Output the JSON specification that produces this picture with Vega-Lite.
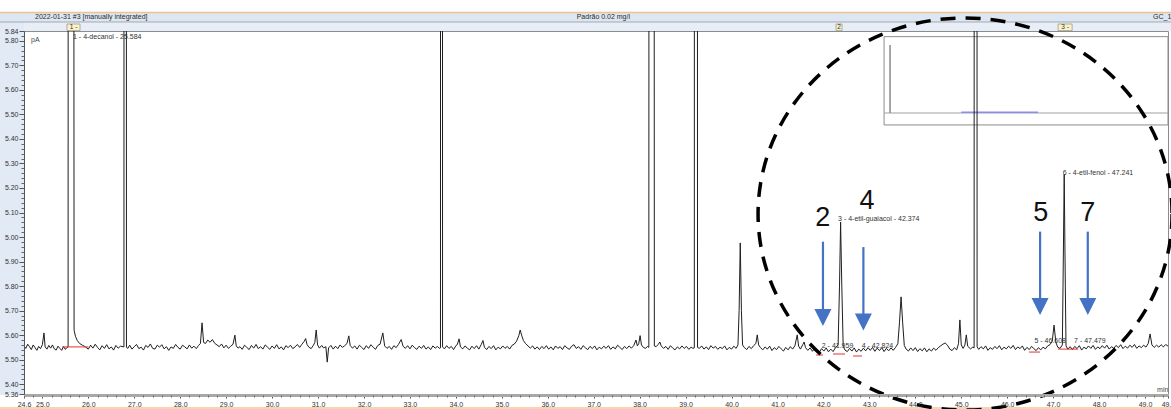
{
"$schema":"https://vega.github.io/schema/vega-lite/v6.json",
"width":1144,"height":363,
"autosize":{"type":"none"},
"padding":{"left":24,"top":31,"right":3,"bottom":15},
"background":"#ffffff",
"config":{"font":"Liberation Sans","view":{"stroke":"#8c8c8c","strokeWidth":1}},
"datasets":{
"trace":[
{"t":24.60,"v":4.556},{"t":24.64,"v":4.546},{"t":24.68,"v":4.563},{"t":24.72,"v":4.553},{"t":24.76,"v":4.541},{"t":24.80,"v":4.560},{"t":24.84,"v":4.549},{"t":24.88,"v":4.538},{"t":24.92,"v":4.554},{"t":24.96,"v":4.545},{"t":25.00,"v":4.561},{"t":25.035,"v":4.609},{"t":25.06,"v":4.552},{"t":25.10,"v":4.543},{"t":25.14,"v":4.558},{"t":25.18,"v":4.547},{"t":25.22,"v":4.560},{"t":25.26,"v":4.544},{"t":25.30,"v":4.539},{"t":25.34,"v":4.555},{"t":25.38,"v":4.546},{"t":25.42,"v":4.538},{"t":25.46,"v":4.553},{"t":25.50,"v":4.542},{"t":25.53,"v":4.549},{"t":25.56,"v":4.552},{"t":25.585,"v":40},{"t":25.69,"v":4.62},{"t":25.72,"v":4.595},{"t":25.76,"v":4.578},{"t":25.81,"v":4.566},{"t":25.87,"v":4.559},{"t":25.93,"v":4.553},
{"t":26.00,"v":4.543},{"t":26.05,"v":4.559},{"t":26.10,"v":4.547},{"t":26.15,"v":4.563},{"t":26.20,"v":4.550},{"t":26.25,"v":4.540},{"t":26.30,"v":4.557},{"t":26.35,"v":4.546},{"t":26.40,"v":4.561},{"t":26.45,"v":4.544},{"t":26.50,"v":4.552},{"t":26.55,"v":4.539},{"t":26.60,"v":4.558},{"t":26.65,"v":4.547},{"t":26.70,"v":4.555},{"t":26.775,"v":4.552},{"t":26.80,"v":40},{"t":26.83,"v":4.550},
{"t":26.86,"v":4.546},{"t":26.90,"v":4.559},{"t":26.95,"v":4.543},{"t":27.00,"v":4.553},{"t":27.05,"v":4.562},{"t":27.10,"v":4.545},{"t":27.15,"v":4.551},{"t":27.20,"v":4.539},{"t":27.25,"v":4.558},{"t":27.30,"v":4.550},{"t":27.35,"v":4.564},{"t":27.40,"v":4.546},{"t":27.45,"v":4.543},{"t":27.50,"v":4.559},{"t":27.55,"v":4.551},{"t":27.60,"v":4.561},{"t":27.65,"v":4.544},{"t":27.70,"v":4.553},{"t":27.75,"v":4.538},{"t":27.80,"v":4.552},{"t":27.85,"v":4.546},{"t":27.90,"v":4.562},{"t":27.95,"v":4.550},{"t":28.00,"v":4.543},{"t":28.05,"v":4.559},{"t":28.10,"v":4.552},{"t":28.15,"v":4.544},{"t":28.20,"v":4.560},{"t":28.25,"v":4.547},{"t":28.30,"v":4.555},{"t":28.35,"v":4.545},{"t":28.40,"v":4.558},{"t":28.44,"v":4.566},{"t":28.475,"v":4.650},{"t":28.51,"v":4.570},{"t":28.55,"v":4.566},{"t":28.60,"v":4.580},{"t":28.65,"v":4.571},{"t":28.70,"v":4.582},{"t":28.75,"v":4.567},{"t":28.80,"v":4.560},{"t":28.85,"v":4.553},{"t":28.90,"v":4.564},{"t":28.95,"v":4.548},{"t":29.00,"v":4.559},{"t":29.05,"v":4.546},{"t":29.10,"v":4.555},{"t":29.15,"v":4.563},{"t":29.19,"v":4.600},{"t":29.22,"v":4.556},{"t":29.26,"v":4.547},{"t":29.30,"v":4.553},{"t":29.35,"v":4.542},{"t":29.40,"v":4.559},{"t":29.45,"v":4.550},{"t":29.50,"v":4.541},{"t":29.55,"v":4.558},{"t":29.60,"v":4.547},{"t":29.65,"v":4.562},{"t":29.70,"v":4.545},{"t":29.75,"v":4.553},{"t":29.80,"v":4.543},{"t":29.85,"v":4.560},{"t":29.90,"v":4.551},{"t":29.95,"v":4.542},{"t":30.00,"v":4.556},{"t":30.05,"v":4.546},{"t":30.10,"v":4.561},{"t":30.15,"v":4.544},{"t":30.20,"v":4.552},{"t":30.25,"v":4.540},{"t":30.30,"v":4.557},{"t":30.35,"v":4.549},{"t":30.40,"v":4.559},{"t":30.45,"v":4.545},{"t":30.50,"v":4.552},{"t":30.55,"v":4.562},{"t":30.60,"v":4.550},{"t":30.65,"v":4.563},{"t":30.70,"v":4.575},{"t":30.73,"v":4.586},{"t":30.76,"v":4.562},{"t":30.80,"v":4.551},{"t":30.85,"v":4.545},{"t":30.90,"v":4.559},{"t":30.93,"v":4.570},{"t":30.96,"v":4.621},{"t":30.99,"v":4.560},{"t":31.03,"v":4.547},{"t":31.08,"v":4.558},{"t":31.12,"v":4.548},{"t":31.17,"v":4.553},{"t":31.20,"v":4.490},{"t":31.23,"v":4.548},{"t":31.28,"v":4.558},{"t":31.33,"v":4.543},{"t":31.38,"v":4.555},{"t":31.43,"v":4.545},{"t":31.48,"v":4.560},{"t":31.53,"v":4.550},{"t":31.58,"v":4.557},{"t":31.63,"v":4.566},{"t":31.67,"v":4.597},{"t":31.70,"v":4.558},{"t":31.75,"v":4.547},{"t":31.80,"v":4.556},{"t":31.85,"v":4.543},{"t":31.90,"v":4.559},{"t":31.95,"v":4.550},{"t":32.00,"v":4.541},{"t":32.05,"v":4.557},{"t":32.10,"v":4.546},{"t":32.15,"v":4.561},{"t":32.20,"v":4.551},{"t":32.25,"v":4.542},{"t":32.30,"v":4.558},{"t":32.35,"v":4.563},{"t":32.41,"v":4.609},{"t":32.45,"v":4.556},{"t":32.50,"v":4.546},{"t":32.55,"v":4.554},{"t":32.60,"v":4.542},{"t":32.65,"v":4.557},{"t":32.70,"v":4.549},{"t":32.75,"v":4.562},{"t":32.81,"v":4.582},{"t":32.85,"v":4.555},{"t":32.90,"v":4.546},{"t":32.95,"v":4.557},{"t":33.00,"v":4.544},{"t":33.05,"v":4.559},{"t":33.10,"v":4.549},{"t":33.15,"v":4.542},{"t":33.20,"v":4.555},{"t":33.25,"v":4.546},{"t":33.30,"v":4.558},{"t":33.35,"v":4.543},{"t":33.40,"v":4.552},{"t":33.45,"v":4.541},{"t":33.50,"v":4.556},{"t":33.55,"v":4.547},{"t":33.60,"v":4.554},{"t":33.64,"v":4.546},{"t":33.665,"v":4.548},{"t":33.685,"v":40},{"t":33.71,"v":4.552},
{"t":33.75,"v":4.544},{"t":33.80,"v":4.557},{"t":33.85,"v":4.546},{"t":33.90,"v":4.554},{"t":33.95,"v":4.541},{"t":34.00,"v":4.557},{"t":34.03,"v":4.561},{"t":34.07,"v":4.585},{"t":34.10,"v":4.552},{"t":34.15,"v":4.544},{"t":34.20,"v":4.556},{"t":34.25,"v":4.547},{"t":34.30,"v":4.540},{"t":34.35,"v":4.555},{"t":34.40,"v":4.545},{"t":34.45,"v":4.557},{"t":34.50,"v":4.543},{"t":34.55,"v":4.561},{"t":34.59,"v":4.578},{"t":34.62,"v":4.551},{"t":34.67,"v":4.541},{"t":34.72,"v":4.554},{"t":34.77,"v":4.545},{"t":34.82,"v":4.557},{"t":34.87,"v":4.540},{"t":34.92,"v":4.551},{"t":34.97,"v":4.544},{"t":35.02,"v":4.556},{"t":35.07,"v":4.546},{"t":35.12,"v":4.554},{"t":35.17,"v":4.543},{"t":35.22,"v":4.558},{"t":35.27,"v":4.563},{"t":35.32,"v":4.575},{"t":35.37,"v":4.598},{"t":35.40,"v":4.621},{"t":35.43,"v":4.600},{"t":35.47,"v":4.578},{"t":35.52,"v":4.565},{"t":35.57,"v":4.556},{"t":35.62,"v":4.547},{"t":35.67,"v":4.556},{"t":35.72,"v":4.543},{"t":35.77,"v":4.552},{"t":35.82,"v":4.541},{"t":35.87,"v":4.554},{"t":35.92,"v":4.545},{"t":35.97,"v":4.557},{"t":36.02,"v":4.543},{"t":36.07,"v":4.552},{"t":36.12,"v":4.540},{"t":36.17,"v":4.556},{"t":36.22,"v":4.546},{"t":36.27,"v":4.553},{"t":36.32,"v":4.541},{"t":36.37,"v":4.557},{"t":36.42,"v":4.548},{"t":36.47,"v":4.542},{"t":36.52,"v":4.555},{"t":36.57,"v":4.561},{"t":36.62,"v":4.546},{"t":36.67,"v":4.553},{"t":36.72,"v":4.542},{"t":36.77,"v":4.557},{"t":36.82,"v":4.548},{"t":36.87,"v":4.541},{"t":36.92,"v":4.554},{"t":36.97,"v":4.545},{"t":37.02,"v":4.556},{"t":37.07,"v":4.540},{"t":37.12,"v":4.551},{"t":37.17,"v":4.544},{"t":37.22,"v":4.555},{"t":37.27,"v":4.546},{"t":37.32,"v":4.557},{"t":37.37,"v":4.542},{"t":37.42,"v":4.552},{"t":37.47,"v":4.544},{"t":37.52,"v":4.559},{"t":37.57,"v":4.550},{"t":37.62,"v":4.541},{"t":37.67,"v":4.554},{"t":37.72,"v":4.545},{"t":37.77,"v":4.556},{"t":37.82,"v":4.547},{"t":37.87,"v":4.557},{"t":37.92,"v":4.580},{"t":37.95,"v":4.556},{"t":37.98,"v":4.565},{"t":38.01,"v":4.598},{"t":38.04,"v":4.560},{"t":38.08,"v":4.550},{"t":38.13,"v":4.546},{"t":38.17,"v":4.554},{"t":38.20,"v":4.550},{"t":38.245,"v":40},{"t":38.32,"v":4.556},
{"t":38.36,"v":4.553},{"t":38.40,"v":4.561},{"t":38.44,"v":4.572},{"t":38.47,"v":4.556},{"t":38.52,"v":4.546},{"t":38.57,"v":4.554},{"t":38.62,"v":4.542},{"t":38.67,"v":4.557},{"t":38.72,"v":4.547},{"t":38.77,"v":4.540},{"t":38.82,"v":4.552},{"t":38.87,"v":4.544},{"t":38.92,"v":4.556},{"t":38.97,"v":4.546},{"t":39.02,"v":4.554},{"t":39.07,"v":4.542},{"t":39.12,"v":4.551},{"t":39.16,"v":4.546},{"t":39.19,"v":4.548},{"t":39.215,"v":40},{"t":39.26,"v":4.550},
{"t":39.30,"v":4.546},{"t":39.35,"v":4.556},{"t":39.40,"v":4.543},{"t":39.45,"v":4.552},{"t":39.50,"v":4.541},{"t":39.55,"v":4.557},{"t":39.60,"v":4.547},{"t":39.65,"v":4.554},{"t":39.70,"v":4.542},{"t":39.75,"v":4.551},{"t":39.80,"v":4.545},{"t":39.85,"v":4.556},{"t":39.90,"v":4.540},{"t":39.95,"v":4.550},{"t":40.00,"v":4.543},{"t":40.05,"v":4.555},{"t":40.10,"v":4.546},{"t":40.14,"v":4.560},{"t":40.165,"v":4.70},{"t":40.19,"v":4.976},{"t":40.215,"v":4.70},{"t":40.24,"v":4.560},{"t":40.28,"v":4.549},{"t":40.33,"v":4.541},{"t":40.38,"v":4.554},{"t":40.43,"v":4.545},{"t":40.48,"v":4.557},{"t":40.53,"v":4.566},{"t":40.56,"v":4.601},{"t":40.59,"v":4.560},{"t":40.63,"v":4.549},{"t":40.68,"v":4.540},{"t":40.73,"v":4.552},{"t":40.78,"v":4.543},{"t":40.83,"v":4.555},{"t":40.88,"v":4.537},{"t":40.93,"v":4.549},{"t":40.98,"v":4.541},{"t":41.03,"v":4.554},{"t":41.08,"v":4.544},{"t":41.13,"v":4.535},{"t":41.18,"v":4.550},{"t":41.23,"v":4.540},{"t":41.28,"v":4.553},{"t":41.33,"v":4.543},{"t":41.38,"v":4.557},{"t":41.43,"v":4.601},{"t":41.46,"v":4.555},{"t":41.50,"v":4.543},{"t":41.55,"v":4.561},{"t":41.58,"v":4.572},{"t":41.61,"v":4.549},{"t":41.66,"v":4.538},{"t":41.71,"v":4.548},{"t":41.76,"v":4.534},{"t":41.81,"v":4.546},{"t":41.86,"v":4.537},{"t":41.91,"v":4.530},{"t":41.96,"v":4.545},{"t":42.01,"v":4.535},{"t":42.06,"v":4.548},{"t":42.11,"v":4.532},{"t":42.16,"v":4.543},{"t":42.21,"v":4.533},{"t":42.26,"v":4.548},{"t":42.32,"v":4.560},{"t":42.35,"v":4.80},{"t":42.374,"v":5.061},{"t":42.40,"v":4.80},{"t":42.43,"v":4.555},{"t":42.47,"v":4.539},{"t":42.52,"v":4.533},{"t":42.57,"v":4.546},{"t":42.62,"v":4.535},{"t":42.67,"v":4.548},{"t":42.72,"v":4.531},{"t":42.77,"v":4.543},{"t":42.82,"v":4.534},{"t":42.87,"v":4.547},{"t":42.92,"v":4.536},{"t":42.97,"v":4.549},{"t":43.02,"v":4.538},{"t":43.07,"v":4.550},{"t":43.12,"v":4.534},{"t":43.17,"v":4.547},{"t":43.22,"v":4.537},{"t":43.27,"v":4.549},{"t":43.32,"v":4.533},{"t":43.37,"v":4.546},{"t":43.42,"v":4.536},{"t":43.47,"v":4.548},{"t":43.52,"v":4.538},{"t":43.57,"v":4.550},{"t":43.62,"v":4.565},{"t":43.655,"v":4.65},{"t":43.69,"v":4.756},{"t":43.725,"v":4.65},{"t":43.76,"v":4.558},{"t":43.80,"v":4.543},{"t":43.85,"v":4.535},{"t":43.90,"v":4.548},{"t":43.95,"v":4.537},{"t":44.00,"v":4.549},{"t":44.05,"v":4.533},{"t":44.10,"v":4.545},{"t":44.15,"v":4.536},{"t":44.20,"v":4.548},{"t":44.25,"v":4.532},{"t":44.30,"v":4.544},{"t":44.35,"v":4.535},{"t":44.40,"v":4.547},{"t":44.45,"v":4.538},{"t":44.50,"v":4.549},{"t":44.55,"v":4.556},{"t":44.60,"v":4.563},{"t":44.65,"v":4.568},{"t":44.70,"v":4.559},{"t":44.75,"v":4.543},{"t":44.80,"v":4.537},{"t":44.85,"v":4.549},{"t":44.90,"v":4.540},{"t":44.94,"v":4.565},{"t":44.97,"v":4.662},{"t":45.00,"v":4.560},{"t":45.04,"v":4.546},{"t":45.08,"v":4.560},{"t":45.11,"v":4.601},{"t":45.14,"v":4.555},{"t":45.20,"v":4.544},{"t":45.25,"v":4.551},{"t":45.28,"v":4.548},{"t":45.305,"v":40},{"t":45.345,"v":4.552},
{"t":45.38,"v":4.542},{"t":45.43,"v":4.553},{"t":45.48,"v":4.544},{"t":45.53,"v":4.556},{"t":45.58,"v":4.538},{"t":45.63,"v":4.549},{"t":45.68,"v":4.542},{"t":45.73,"v":4.554},{"t":45.78,"v":4.545},{"t":45.83,"v":4.557},{"t":45.88,"v":4.540},{"t":45.93,"v":4.551},{"t":45.98,"v":4.544},{"t":46.03,"v":4.555},{"t":46.08,"v":4.546},{"t":46.13,"v":4.558},{"t":46.18,"v":4.541},{"t":46.23,"v":4.552},{"t":46.28,"v":4.545},{"t":46.33,"v":4.556},{"t":46.38,"v":4.538},{"t":46.43,"v":4.550},{"t":46.48,"v":4.541},{"t":46.53,"v":4.554},{"t":46.58,"v":4.545},{"t":46.63,"v":4.537},{"t":46.68,"v":4.549},{"t":46.73,"v":4.540},{"t":46.78,"v":4.551},{"t":46.83,"v":4.544},{"t":46.88,"v":4.556},{"t":46.93,"v":4.561},{"t":46.98,"v":4.575},{"t":47.02,"v":4.641},{"t":47.06,"v":4.570},{"t":47.10,"v":4.551},{"t":47.15,"v":4.546},{"t":47.20,"v":4.560},{"t":47.215,"v":4.80},{"t":47.241,"v":5.255},{"t":47.265,"v":4.80},{"t":47.28,"v":4.556},{"t":47.32,"v":4.543},{"t":47.37,"v":4.553},{"t":47.42,"v":4.541},{"t":47.47,"v":4.554},{"t":47.52,"v":4.545},{"t":47.57,"v":4.557},{"t":47.62,"v":4.539},{"t":47.67,"v":4.551},{"t":47.72,"v":4.544},{"t":47.77,"v":4.556},{"t":47.82,"v":4.546},{"t":47.87,"v":4.558},{"t":47.92,"v":4.542},{"t":47.97,"v":4.552},{"t":48.02,"v":4.545},{"t":48.07,"v":4.557},{"t":48.12,"v":4.547},{"t":48.17,"v":4.559},{"t":48.22,"v":4.543},{"t":48.27,"v":4.553},{"t":48.32,"v":4.546},{"t":48.37,"v":4.558},{"t":48.42,"v":4.549},{"t":48.47,"v":4.561},{"t":48.52,"v":4.545},{"t":48.57,"v":4.555},{"t":48.62,"v":4.547},{"t":48.67,"v":4.559},{"t":48.72,"v":4.550},{"t":48.77,"v":4.562},{"t":48.82,"v":4.546},{"t":48.87,"v":4.556},{"t":48.92,"v":4.549},{"t":48.97,"v":4.559},{"t":49.02,"v":4.551},{"t":49.07,"v":4.566},{"t":49.11,"v":4.605},{"t":49.15,"v":4.560},{"t":49.20,"v":4.550},{"t":49.25,"v":4.559},{"t":49.30,"v":4.551},{"t":49.35,"v":4.561},{"t":49.40,"v":4.552},{"t":49.45,"v":4.562},{"t":49.50,"v":4.555}
],
"plabels":[
{"t":25.667,"v":5.8155,"label":"1 - 4-decanol - 25.584"},
{"t":42.319,"v":5.073,"label":"3 - 4-etil-guaiacol - 42.374"},
{"t":41.964,"v":4.556,"label":"2 - 41.959"},
{"t":42.834,"v":4.556,"label":"4 - 42.824"},
{"t":46.592,"v":4.576,"label":"5 - 46.608"},
{"t":47.456,"v":4.576,"label":"7 - 47.479"},
{"t":47.209,"v":5.260,"label":"6 - 4-etil-fenol - 47.241"}
],
"nums":[
{"t":41.986,"v":5.078,"label":"2"},
{"t":42.95,"v":5.147,"label":"4"},
{"t":46.731,"v":5.098,"label":"5"},
{"t":47.754,"v":5.098,"label":"7"}
],
"arrows":[
{"t":41.99,"top":4.981,"head":4.672},
{"t":42.87,"top":4.959,"head":4.654},
{"t":46.716,"top":5.022,"head":4.717},
{"t":47.754,"top":5.022,"head":4.717}
],
"ibase":[
{"t":25.43,"t2":26.0,"v":4.552},
{"t":41.84,"t2":41.99,"v":4.519},
{"t":42.21,"t2":42.47,"v":4.523},
{"t":42.645,"t2":42.84,"v":4.515},
{"t":46.476,"t2":46.716,"v":4.531},
{"t":47.108,"t2":47.543,"v":4.543}
],
"htext":[
{"t":24.84,"v":5.897,"label":"2022-01-31 #3 [manually integrated]"},
{"t":36.63,"v":5.897,"label":"Padrão 0.02 mg/l"},
{"t":49.175,"v":5.897,"label":"GC_1"}
],
"mbox":[
{"t":25.536,"t2":25.819,"tc":25.68,"label":"1 -"},
{"t":42.275,"t2":42.405,"tc":42.34,"label":"2"},
{"t":47.108,"t2":47.413,"tc":47.26,"label":"3 -"}
],
"ctext":[
{"t":24.752,"v":5.803,"label":"pA"},
{"t":49.263,"v":4.376,"label":"min"}
]
},
"layer":[
{"data":{"values":[{}]},"mark":{"type":"rect","fill":"#dde7f3","clip":false},
 "encoding":{"x":{"datum":24.0,"type":"quantitative","scale":{"domain":[24.6,49.5],"nice":false,"zero":false},"axis":null},"x2":{"datum":49.6},
 "y":{"datum":5.9134,"type":"quantitative","scale":{"domain":[4.36,5.84],"nice":false,"zero":false},"axis":null},"y2":{"datum":5.8767}}},
{"data":{"values":[{}]},"mark":{"type":"rect","fill":"#e7eef8","clip":false},
 "encoding":{"x":{"datum":24.0,"type":"quantitative","scale":{"domain":[24.6,49.5],"nice":false,"zero":false},"axis":null},"x2":{"datum":49.6},
 "y":{"datum":5.8767,"type":"quantitative","scale":{"domain":[4.36,5.84],"nice":false,"zero":false},"axis":null},"y2":{"datum":5.84}}},
{"data":{"values":[{}]},"mark":{"type":"rect","fill":"#e2eaf5","clip":false},
 "encoding":{"x":{"datum":24.0,"type":"quantitative","scale":{"domain":[24.6,49.5],"nice":false,"zero":false},"axis":null},"x2":{"datum":24.6},
 "y":{"datum":5.8767,"type":"quantitative","scale":{"domain":[4.36,5.84],"nice":false,"zero":false},"axis":null},"y2":{"datum":4.356}}},
{"data":{"values":[{}]},"mark":{"type":"rule","color":"#ecc28e","strokeWidth":1.5,"clip":false},
 "encoding":{"x":{"datum":24.0,"type":"quantitative","scale":{"domain":[24.6,49.5],"nice":false,"zero":false},"axis":null},"x2":{"datum":49.6},
 "y":{"datum":5.9154,"type":"quantitative","scale":{"domain":[4.36,5.84],"nice":false,"zero":false},"axis":null}}},
{"data":{"values":[{}]},"mark":{"type":"rule","color":"#a8a8a8","strokeWidth":1,"clip":false},
 "encoding":{"x":{"datum":24.0,"type":"quantitative","scale":{"domain":[24.6,49.5],"nice":false,"zero":false},"axis":null},"x2":{"datum":49.6},
 "y":{"datum":5.8767,"type":"quantitative","scale":{"domain":[4.36,5.84],"nice":false,"zero":false},"axis":null}}},
{"data":{"values":[{}]},"mark":{"type":"rule","color":"#f0c69a","strokeWidth":1.5,"clip":false},
 "encoding":{"x":{"datum":24.0,"type":"quantitative","scale":{"domain":[24.6,49.5],"nice":false,"zero":false},"axis":null},"x2":{"datum":49.6},
 "y":{"datum":4.303,"type":"quantitative","scale":{"domain":[4.36,5.84],"nice":false,"zero":false},"axis":null}}},
{"data":{"values":[{}]},"mark":{"type":"rect","fill":"#ffffff","stroke":"#8c8c8c","strokeWidth":1,"clip":false},
 "encoding":{"x":{"datum":43.32,"type":"quantitative","scale":{"domain":[24.6,49.5],"nice":false,"zero":false},"axis":null},"x2":{"datum":49.5},
 "y":{"datum":5.817,"type":"quantitative","scale":{"domain":[4.36,5.84],"nice":false,"zero":false},"axis":null},"y2":{"datum":5.457}}},
{"data":{"values":[{}]},"mark":{"type":"rule","color":"#a0a0a0","strokeWidth":1},
 "encoding":{"x":{"datum":43.32,"type":"quantitative","scale":{"domain":[24.6,49.5],"nice":false,"zero":false},"axis":null},"x2":{"datum":49.5},
 "y":{"datum":5.5057,"type":"quantitative","scale":{"domain":[4.36,5.84],"nice":false,"zero":false},"axis":null}}},
{"data":{"values":[{}]},"mark":{"type":"rule","color":"#8a8a8a","strokeWidth":1.5},
 "encoding":{"x":{"datum":43.45,"type":"quantitative","scale":{"domain":[24.6,49.5],"nice":false,"zero":false},"axis":null},
 "y":{"datum":5.783,"type":"quantitative","scale":{"domain":[4.36,5.84],"nice":false,"zero":false},"axis":null},"y2":{"datum":5.5057}}},
{"data":{"values":[{}]},"mark":{"type":"rule","color":"#8c8cf0","strokeWidth":1.5},
 "encoding":{"x":{"datum":45.0,"type":"quantitative","scale":{"domain":[24.6,49.5],"nice":false,"zero":false},"axis":null},"x2":{"datum":46.67},
 "y":{"datum":5.509,"type":"quantitative","scale":{"domain":[4.36,5.84],"nice":false,"zero":false},"axis":null}}},
{"data":{"name":"mbox"},"mark":{"type":"rect","fill":"#fbf3c3","stroke":"#9a9a9a","strokeWidth":0.8,"clip":false},
 "encoding":{"x":{"field":"t","type":"quantitative","scale":{"domain":[24.6,49.5],"nice":false,"zero":false},"axis":null},"x2":{"field":"t2"},
 "y":{"datum":5.8685,"type":"quantitative","scale":{"domain":[4.36,5.84],"nice":false,"zero":false},"axis":null},"y2":{"datum":5.8415}}},
{"data":{"name":"mbox"},"mark":{"type":"text","fontSize":6.5,"color":"#333333","align":"center","baseline":"middle","clip":false},
 "encoding":{"x":{"field":"tc","type":"quantitative","scale":{"domain":[24.6,49.5],"nice":false,"zero":false},"axis":null},
 "y":{"datum":5.855,"type":"quantitative","scale":{"domain":[4.36,5.84],"nice":false,"zero":false},"axis":null},"text":{"field":"label"}}},
{"data":{"name":"htext"},"mark":{"type":"text","fontSize":7,"color":"#2a2a2a","align":"left","baseline":"middle","clip":false},
 "encoding":{"x":{"field":"t","type":"quantitative","scale":{"domain":[24.6,49.5],"nice":false,"zero":false},"axis":null},
 "y":{"field":"v","type":"quantitative","scale":{"domain":[4.36,5.84],"nice":false,"zero":false},"axis":null},"text":{"field":"label"}}},
{"data":{"name":"trace"},"mark":{"type":"line","color":"#1e1e1e","strokeWidth":1,"clip":true},
 "encoding":{"x":{"field":"t","type":"quantitative","scale":{"domain":[24.6,49.5],"nice":false,"zero":false},
   "axis":{"orient":"bottom","zindex":1,"values":[24.6,25,26,27,28,29,30,31,32,33,34,35,36,37,38,39,40,41,42,43,44,45,46,47,48,49,49.5],"format":".1f","title":null,"grid":false,"domainColor":"#a8a8a8","domainWidth":3,"offset":1,"tickColor":"#555555","tickSize":3,"tickWidth":1,"labelFontSize":7,"labelColor":"#333333","labelPadding":2,"labelFlush":false,"labelOverlap":false}},
 "y":{"field":"v","type":"quantitative","scale":{"domain":[4.36,5.84],"nice":false,"zero":false},
   "axis":{"orient":"left","zindex":1,"values":[4.36,4.4,4.5,4.6,4.7,4.8,4.9,5,5.1,5.2,5.3,5.4,5.5,5.6,5.7,5.8,5.84],"labelExpr":"'5' + slice(format(datum.value, '.2f'), 1)","title":null,"grid":false,"domainColor":"#555555","tickColor":"#555555","tickSize":5,"labelFontSize":7,"labelColor":"#333333","labelPadding":1,"labelFlush":false,"labelOverlap":false}}}},
{"data":{"name":"ibase"},"mark":{"type":"rule","color":"#e83030","strokeWidth":1},
 "encoding":{"x":{"field":"t","type":"quantitative","scale":{"domain":[24.6,49.5],"nice":false,"zero":false},"axis":null},"x2":{"field":"t2"},
 "y":{"field":"v","type":"quantitative","scale":{"domain":[4.36,5.84],"nice":false,"zero":false},"axis":null}}},
{"data":{"name":"plabels"},"mark":{"type":"text","fontSize":7,"color":"#333333","align":"left","baseline":"middle"},
 "encoding":{"x":{"field":"t","type":"quantitative","scale":{"domain":[24.6,49.5],"nice":false,"zero":false},"axis":null},
 "y":{"field":"v","type":"quantitative","scale":{"domain":[4.36,5.84],"nice":false,"zero":false},"axis":null},"text":{"field":"label"}}},
{"data":{"name":"ctext"},"mark":{"type":"text","fontSize":7,"color":"#444444","align":"left","baseline":"middle"},
 "encoding":{"x":{"field":"t","type":"quantitative","scale":{"domain":[24.6,49.5],"nice":false,"zero":false},"axis":null},
 "y":{"field":"v","type":"quantitative","scale":{"domain":[4.36,5.84],"nice":false,"zero":false},"axis":null},"text":{"field":"label"}}},
{"data":{"name":"nums"},"mark":{"type":"text","fontSize":27,"color":"#111111","align":"center","baseline":"middle"},
 "encoding":{"x":{"field":"t","type":"quantitative","scale":{"domain":[24.6,49.5],"nice":false,"zero":false},"axis":null},
 "y":{"field":"v","type":"quantitative","scale":{"domain":[4.36,5.84],"nice":false,"zero":false},"axis":null},"text":{"field":"label"}}},
{"data":{"name":"arrows"},"mark":{"type":"rule","color":"#4472c4","strokeWidth":2.2},
 "encoding":{"x":{"field":"t","type":"quantitative","scale":{"domain":[24.6,49.5],"nice":false,"zero":false},"axis":null},
 "y":{"field":"top","type":"quantitative","scale":{"domain":[4.36,5.84],"nice":false,"zero":false},"axis":null},"y2":{"field":"head"}}},
{"data":{"name":"arrows"},"mark":{"type":"point","shape":"M -1 -1 L 1 -1 L 0 1 Z","size":289,"filled":true,"fill":"#4472c4","opacity":1,"strokeWidth":0},
 "encoding":{"x":{"field":"t","type":"quantitative","scale":{"domain":[24.6,49.5],"nice":false,"zero":false},"axis":null},
 "y":{"field":"head","type":"quantitative","scale":{"domain":[4.36,5.84],"nice":false,"zero":false},"axis":null}}},
{"data":{"values":[{}]},"mark":{"type":"point","shape":"M 1 0 C 1 0.523 0.552 0.947 0 0.947 C -0.552 0.947 -1 0.523 -1 0 C -1 -0.523 -0.552 -0.947 0 -0.947 C 0.552 -0.947 1 -0.523 1 0 Z","size":171396,"filled":false,"stroke":"#000000","strokeWidth":3.5,"strokeDash":[15,10],"opacity":1},
 "encoding":{"x":{"datum":45.083,"type":"quantitative","scale":{"domain":[24.6,49.5],"nice":false,"zero":false},"axis":null},
 "y":{"datum":5.094,"type":"quantitative","scale":{"domain":[4.36,5.84],"nice":false,"zero":false},"axis":null}}},
{"data":{"values":[{}]},"mark":{"type":"point","opacity":0},
 "encoding":{"x":{"datum":30,"type":"quantitative","scale":{"domain":[24.6,49.5],"nice":false,"zero":false},
   "axis":{"orient":"bottom","zindex":1,"values":[24.8,25.2,25.4,25.6,25.8,26.2,26.4,26.6,26.8,27.2,27.4,27.6,27.8,28.2,28.4,28.6,28.8,29.2,29.4,29.6,29.8,30.2,30.4,30.6,30.8,31.2,31.4,31.6,31.8,32.2,32.4,32.6,32.8,33.2,33.4,33.6,33.8,34.2,34.4,34.6,34.8,35.2,35.4,35.6,35.8,36.2,36.4,36.6,36.8,37.2,37.4,37.6,37.8,38.2,38.4,38.6,38.8,39.2,39.4,39.6,39.8,40.2,40.4,40.6,40.8,41.2,41.4,41.6,41.8,42.2,42.4,42.6,42.8,43.2,43.4,43.6,43.8,44.2,44.4,44.6,44.8,45.2,45.4,45.6,45.8,46.2,46.4,46.6,46.8,47.2,47.4,47.6,47.8,48.2,48.4,48.6,48.8,49.2,49.4],"labels":false,"domain":false,"tickSize":2,"tickColor":"#666666","offset":1,"title":null,"grid":false}},
 "y":{"datum":5,"type":"quantitative","scale":{"domain":[4.36,5.84],"nice":false,"zero":false},
   "axis":{"orient":"left","zindex":1,"values":[4.38,4.42,4.44,4.46,4.48,4.52,4.54,4.56,4.58,4.62,4.64,4.66,4.68,4.72,4.74,4.76,4.78,4.82,4.84,4.86,4.88,4.92,4.94,4.96,4.98,5.02,5.04,5.06,5.08,5.12,5.14,5.16,5.18,5.22,5.24,5.26,5.28,5.32,5.34,5.36,5.38,5.42,5.44,5.46,5.48,5.52,5.54,5.56,5.58,5.62,5.64,5.66,5.68,5.72,5.74,5.76,5.78,5.82],"labels":false,"domain":false,"tickSize":3,"tickColor":"#666666","title":null,"grid":false}}}}
],
"resolve":{"axis":{"x":"independent","y":"independent"}}
}
